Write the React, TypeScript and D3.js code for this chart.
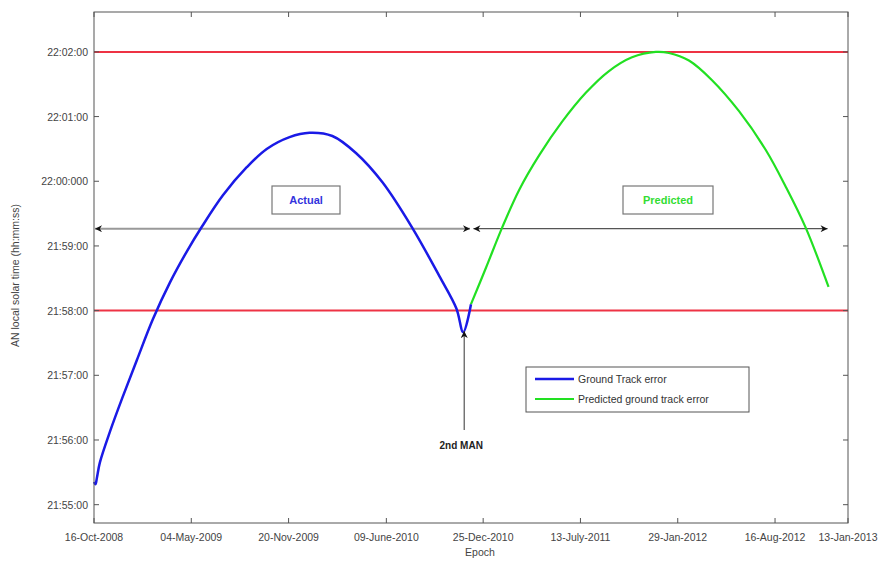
import React from "react";
import * as d3 from "d3";

// days since 16-Oct-2008, seconds after 21:55:00
const actualDays = [0, 3, 6, 12, 33, 59, 88, 121, 156, 191, 222, 265, 314, 355, 402, 443, 490, 539, 593, 654, 710, 745, 759, 775];
const actualSecs = [21, 19, 25, 39, 68, 100, 134, 172, 206, 235, 258, 287, 313, 330, 341, 345, 342, 326, 299, 257, 212, 182, 160, 186];
const predDays = [775, 806, 839, 874, 915, 962, 1011, 1058, 1106, 1155, 1182, 1223, 1270, 1326, 1381, 1422, 1463, 1510];
const predSecs = [186, 220, 257, 292, 324, 355, 382, 402, 415, 420, 419, 412, 394, 365, 329, 295, 257, 202];

const xTickDays = [0, 200, 400, 601, 800, 1000, 1200, 1400, 1550];
const xTickLabels = ["16-Oct-2008", "04-May-2009", "20-Nov-2009", "09-June-2010", "25-Dec-2010", "13-July-2011", "29-Jan-2012", "16-Aug-2012", "13-Jan-2013"];
const yTickSecs = [0, 60, 120, 180, 240, 300, 360, 420];
const yTickLabels = ["21:55:00", "21:56:00", "21:57:00", "21:58:00", "21:59:00", "22:00:000", "22:01:00", "22:02:00"];
const limitSecs = [180, 420];
const maneuverDay = 759;
const arrowSec = 256;

const W = 886, H = 561;
const L = 94, R = 848, T = 12, B = 523;

export default function App() {
  const x = d3.scaleLinear().domain([0, 1550]).range([L, R]);
  const y = d3.scaleLinear().domain([-17, 457]).range([B, T]);
  const line = d3.line<[number, number]>().x(d => x(d[0])).y(d => y(d[1])).curve(d3.curveCatmullRom.alpha(0.5));
  const actual = actualDays.map((d, i) => [d, actualSecs[i]] as [number, number]);
  const pred = predDays.map((d, i) => [d, predSecs[i]] as [number, number]);
  const font = "'Liberation Sans', Arial, sans-serif";
  const ay = y(arrowSec);
  const mx = x(maneuverDay);
  return (
    <svg width={W} height={H} style={{ position: "absolute", left: 0, top: 0, background: "#fff" }} fontFamily={font}>
      <defs>
        <marker id="ah" viewBox="0 0 10 10" refX="10" refY="5" markerWidth="9" markerHeight="7" orient="auto-start-reverse" markerUnits="userSpaceOnUse">
          <path d="M0,0 L10,5 L0,10 L3,5 Z" fill="#111" />
        </marker>
      </defs>
      <rect x={L} y={T} width={R - L} height={B - T} fill="#fff" />
      {limitSecs.map((s, i) => (
        <line key={i} x1={L} x2={R} y1={y(s)} y2={y(s)} stroke="#ee3344" strokeWidth={2} />
      ))}
      {/* double arrows */}
      <line x1={L + 1} x2={x(777) - 2} y1={ay} y2={ay} stroke="#999" strokeWidth={2} markerStart="url(#ah)" markerEnd="url(#ah)" />
      <line x1={x(780)} x2={x(1508)} y1={ay} y2={ay} stroke="#555" strokeWidth={1.2} markerStart="url(#ah)" markerEnd="url(#ah)" />
      <path d={line(actual) || ""} fill="none" stroke="#1a1ae6" strokeWidth={2.5} />
      <path d={line(pred) || ""} fill="none" stroke="#22e022" strokeWidth={2.2} />
      {/* maneuver arrow */}
      <line x1={mx + 1} x2={mx + 1} y1={430} y2={y(161)} stroke="#555" strokeWidth={1.2} markerEnd="url(#ah)" />
      <text x={mx - 2} y={449} textAnchor="middle" fontSize={10} fontWeight="bold" fill="#222">2nd MAN</text>
      {/* text boxes */}
      <rect x={272} y={186} width={68} height={28} fill="#fff" stroke="#777" strokeWidth={1.2} />
      <text x={306} y={204} textAnchor="middle" fontSize={11} fontWeight="bold" fill="#3333dd">Actual</text>
      <rect x={623} y={186} width={90} height={28} fill="#fff" stroke="#777" strokeWidth={1.2} />
      <text x={668} y={204} textAnchor="middle" fontSize={11} fontWeight="bold" fill="#33dd33">Predicted</text>
      {/* legend */}
      <rect x={526} y={367} width={223} height={45} fill="#fff" stroke="#555" strokeWidth={1} />
      <line x1={535} x2={574} y1={379} y2={379} stroke="#1a1ae6" strokeWidth={2.5} />
      <text x={578} y={383} fontSize={10.5} fill="#333">Ground Track error</text>
      <line x1={535} x2={574} y1={399} y2={399} stroke="#22e022" strokeWidth={2.2} />
      <text x={578} y={403} fontSize={10.5} fill="#333">Predicted ground track error</text>
      {/* axes box */}
      <rect x={L} y={T} width={R - L} height={B - T} fill="none" stroke="#555" strokeWidth={1} />
      {xTickDays.map((d, i) => (
        <g key={i}>
          <line x1={x(d)} x2={x(d)} y1={B} y2={B - 5} stroke="#555" />
          <line x1={x(d)} x2={x(d)} y1={T} y2={T + 5} stroke="#555" />
          <text x={x(d)} y={541} textAnchor="middle" fontSize={10.5} fill="#444">{xTickLabels[i]}</text>
        </g>
      ))}
      {yTickSecs.map((s, i) => (
        <g key={i}>
          <line x1={L} x2={L + 5} y1={y(s)} y2={y(s)} stroke="#555" />
          <line x1={R} x2={R - 5} y1={y(s)} y2={y(s)} stroke="#555" />
          <text x={L - 6} y={y(s) + 4} textAnchor="end" fontSize={10.5} fill="#444">{yTickLabels[i]}</text>
        </g>
      ))}
      <text x={480} y={556} textAnchor="middle" fontSize={10.5} fill="#444">Epoch</text>
      <text transform={`translate(19,${(T + B) / 2 + 8}) rotate(-90)`} textAnchor="middle" fontSize={10.5} fill="#444">AN local solar time (hh:mm:ss)</text>
    </svg>
  );
}
